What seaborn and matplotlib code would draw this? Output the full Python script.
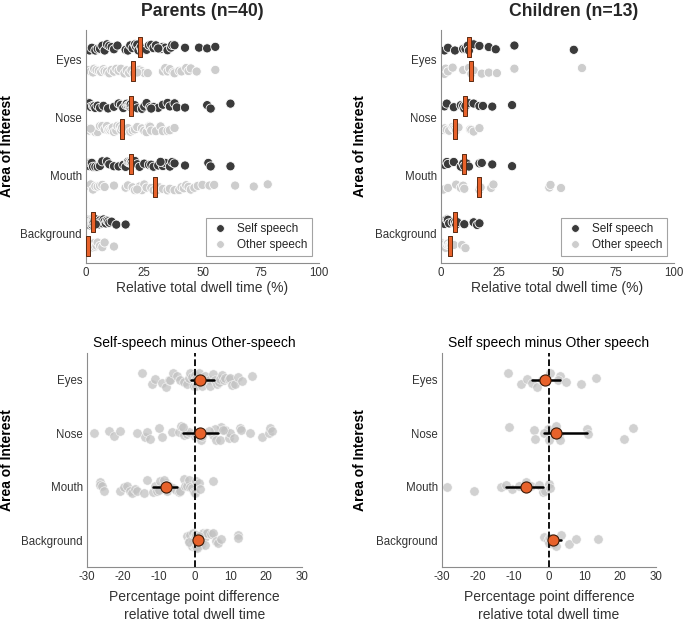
import numpy as np
import pandas as pd
import matplotlib
matplotlib.use("Agg")
import matplotlib.pyplot as plt
import seaborn as sns
from matplotlib.path import Path
from matplotlib.lines import Line2D
from matplotlib.ticker import FixedLocator

aois = ["Eyes", "Nose", "Mouth", "Background"]
conds = ["Self speech", "Other speech"]

# relative total dwell time (%) per participant
parents_self = {
    "Eyes": [1.5, 2.5, 4, 5, 6, 7, 8, 9, 10, 11, 12, 13.5, 17, 18, 19, 20, 21, 21.5, 22, 22.5,
             23.5, 24, 25, 26, 27, 28, 29, 30, 32, 33, 34, 35, 36.5, 37, 38, 42.5, 48.5, 52, 55.5, 31],
    "Nose": [1, 1.5, 2, 3, 3.5, 4, 5, 6, 7.5, 9.5, 12, 14, 15, 16, 17, 17.5, 18, 18.5, 18.8, 19,
             19.2, 20, 21, 22, 24, 25, 26, 27.5, 29, 31, 33, 35, 36, 38, 39, 42.5, 52, 53.5, 62, 28],
    "Mouth": [1, 1.5, 2, 2.5, 3, 4, 5, 6, 7, 9, 10, 12, 14, 16, 17, 18, 18.5, 19, 19.2, 19.4,
              19.6, 20, 21, 22, 23, 25, 27, 28, 29, 31, 33, 34, 36, 37, 38, 42.5, 52.5, 53.5, 62, 32],
    "Background": [0.2, 0.5, 0.8, 1, 1.2, 1.5, 1.8, 2, 2.2, 2.4, 2.5, 2.6, 2.7, 2.8, 2.9, 2.9, 3, 3, 3, 3,
                   3, 3.2, 3.5, 4, 4.5, 5, 5.5, 6, 6.5, 7, 7.5, 8, 8.5, 9, 9.5, 10, 11, 13, 17, 4.2],
}
parents_other = {
    "Eyes": [1, 2, 3, 3.5, 4.5, 5.5, 6.5, 7.5, 8, 9, 10, 11, 12, 13, 14, 15, 16.5, 17.5, 18.5, 19.5,
             20.5, 21.5, 23, 24, 25, 26.5, 33, 34, 35, 36, 37.5, 38, 40, 41, 43, 44, 45, 47.5, 55.5, 22],
    "Nose": [0.5, 1.5, 3, 4, 5, 6, 7, 8, 9, 9.5, 10, 10.5, 11, 11.5, 12, 13, 13.5, 14.5, 15, 15.5,
             16.5, 17.5, 18, 19, 20, 21, 22, 24, 25, 26, 27, 27.5, 28, 30, 32, 33, 35, 36, 38, 2],
    "Mouth": [0.5, 2, 3, 4, 5, 6, 7, 8, 12, 17, 18, 20, 21, 23, 24, 25, 26, 28, 29, 30.5,
              31.5, 33, 35, 36, 38, 40, 41, 42, 43, 44, 45, 46.5, 48, 50, 53, 55, 64, 72, 78, 22],
    "Background": [0, 0, 0, 0.1, 0.2, 0.2, 0.3, 0.4, 0.5, 0.5, 0.6, 0.7, 0.7, 0.8, 0.8, 0.9, 0.9, 1, 1, 1,
                   1, 1.1, 1.2, 1.4, 1.6, 1.8, 2, 2.2, 2.5, 2.8, 3, 3.5, 4, 4.5, 5, 6, 7, 8, 12, 0.3],
}
children_self = {
    "Eyes": [1.5, 3, 6, 9.5, 10.5, 11.5, 12, 14, 16.5, 20.5, 23.5, 31.5, 57],
    "Nose": [1.5, 2.5, 5.5, 8.5, 9.5, 10, 10.5, 12, 14, 16.5, 18, 22, 30.5],
    "Mouth": [1.5, 2.5, 3, 5.5, 8.5, 9.5, 10, 11, 12, 16.5, 17.5, 22, 30.5],
    "Background": [0.5, 1.5, 2.5, 3, 3.5, 5, 6, 6.5, 7, 10, 14, 15.5, 16.5],
}
children_other = {
    "Eyes": [1.5, 2, 3, 5, 9.5, 12, 13, 14, 17.5, 20.5, 24, 31.5, 60.5],
    "Nose": [1, 1.5, 2.5, 3.5, 5, 5.5, 6, 6.5, 7.5, 12.5, 13, 14, 16.5],
    "Mouth": [1, 3, 6.5, 8.5, 9.5, 10, 16.5, 17, 21.5, 22.5, 46.5, 47, 51.5],
    "Background": [0.5, 1, 2, 2.5, 3, 3.5, 4, 4.2, 4.5, 5, 5.5, 9, 10.5],
}

# self minus other, percentage points
parents_diff = {
    "Eyes": [-14.7, -11.9, -10.9, -9.1, -8, -7.2, -6.7, -6, -4.9, -4, -3, -2.1, -1.6, -1.2, -0.7, -0.2,
             0, 0.3, 0.5, 1.3, 1.5, 2, 3, 4, 4.4, 5.3, 5.8, 6.3, 6.8, 7.2, 7.7, 8.1, 8.5, 9.5, 10, 10.5,
             11.4, 12, 13.3, 16],
    "Nose": [-28.1, -24, -22.6, -20.7, -16, -13.7, -13.3, -12.3, -10, -9.1, -6.3, -4.4, -3, -2.1, -1.6,
             -3.8, -3.3, 0, 0.5, 1.5, 1.7, 2.1, 7.5, 8.5, 5.3, 5.8, 6, 7.2, 9.5, 10, 11, 12.8, 13, 15.6,
             18.8, 20.7, 21.2, 21.6, 4, 8],
    "Mouth": [-26.5, -26.3, -25.8, -25.3, -20.7, -19.8, -18.8, -17.9, -17.4, -16.5, -16, -14, -13.3,
              -11.5, -7.9, -10.9, -10.5, -10, -9.5, -7.95, -8.6, -8, -7.7, -7.2, -6, -5.3, -4.4, -4, -3,
              -2.6, -2.1, -1.6, -1.2, -0.7, -0.2, 0, 0.5, 1.2, 1.6, 5.3],
    "Background": [-2, -1.6, -1.2, -1, -0.8, -0.5, -0.3, -0.1, 0, 0, 0.2, 0.4, 0.5, 0.7, 0.9, 1, 1.35,
                   1.4, 1.6, 1.8, 2, 2.2, 2.5, 2.8, 3, 3.2, 3.5, 0.1, 4.5, 0.5, 5.3, 6, 6.5, 7.5, 12, 12.2,
                   -1.5, 0.3, 0.8, 1.3],
}
children_diff = {
    "Eyes": [-11.4, -7.9, -6.3, -4.9, -3.5, -2.1, -1.0, 0.2, 3.0, 2.5, 4.9, 9.1, 13.3],
    "Nose": [-11.3, -4.3, -4, -0.3, -1.5, 0, 2, 2.9, 3.2, 10.7, 10.8, 20.9, 23.5],
    "Mouth": [-28.6, -21.1, -10.4, -8.5, -6.5, -13.5, -12, -5, -2.9, -1.7, -1.2, 0, 0.2],
    "Background": [-1.5, -0.3, 0, 0, 0.3, 0.8, 1.2, 1.5, 2, 3.5, 5.5, 7.7, 13.6],
}

orange = "#e8622b"
dot_colors = {"Self speech": "#3b3b3b", "Other speech": "#cdcdcd"}
spine_col = "#8c8c8c"
text_col = "#333333"


def dwell_frame(self_d, other_d):
    rows = []
    for cond, d in zip(conds, [self_d, other_d]):
        for aoi in aois:
            for v in d[aoi]:
                rows.append((aoi, cond, v))
    return pd.DataFrame(rows, columns=["aoi", "cond", "dwell"])


def diff_frame(d):
    rows = [(aoi, v) for aoi in aois for v in d[aoi]]
    return pd.DataFrame(rows, columns=["aoi", "diff"])


sns.set_style("white")
plt.rcParams["font.family"] = ["Liberation Sans", "DejaVu Sans"]
plt.rcParams["axes.unicode_minus"] = False

# thin upright rectangle used for the median markers
bar_marker = Path([(-0.1, -0.5), (0.1, -0.5), (0.1, 0.5), (-0.1, 0.5), (-0.1, -0.5)],
                  [Path.MOVETO, Path.LINETO, Path.LINETO, Path.LINETO, Path.CLOSEPOLY])


def style_axes(ax, ylab_x):
    sns.despine(ax=ax)
    for s in ["left", "bottom"]:
        ax.spines[s].set_color(spine_col)
        ax.spines[s].set_linewidth(0.8)
    ax.tick_params(which="both", direction="in", length=3, color=spine_col,
                   labelcolor=text_col, labelsize=8.3, pad=3)
    ax.set_ylabel("Area of Interest", fontsize=10, fontweight="bold", color="black")
    ax.yaxis.set_label_coords(ylab_x, 0.5)


def top_panel(ax, df, ylab_x):
    np.random.seed(4)
    sns.stripplot(data=df, x="dwell", y="aoi", hue="cond", order=aois, hue_order=conds,
                  dodge=True, jitter=0.11, palette=dot_colors, size=6.6, edgecolor="white",
                  linewidth=0.6, legend=False, ax=ax, zorder=2)
    sns.pointplot(data=df, x="dwell", y="aoi", hue="cond", order=aois, hue_order=conds,
                  dodge=0.4, estimator="median", errorbar=None, markers=bar_marker,
                  linestyles="none", palette={c: orange for c in conds}, markersize=14.5,
                  markeredgecolor="#5a2a12", markeredgewidth=0.7, legend=False, ax=ax, zorder=4)
    ax.set_xlim(0, 100)
    ax.set_ylim(3.5, -0.5)
    ax.set_xticks([0, 25, 50, 75, 100])
    ax.yaxis.set_minor_locator(FixedLocator([-0.5, 0.5, 1.5, 2.5, 3.5]))
    ax.set_xlabel("Relative total dwell time (%)", fontsize=10, color=text_col, labelpad=1)
    style_axes(ax, ylab_x)
    handles = [Line2D([0], [0], marker="o", linestyle="none", markersize=5.5,
                      markerfacecolor=dot_colors[c], markeredgecolor="white", markeredgewidth=0.5)
               for c in conds]
    leg = ax.legend(handles, conds, loc="lower right", fontsize=8.5, frameon=True, fancybox=False,
                    borderaxespad=0.6, handletextpad=0.6, borderpad=0.4, labelspacing=0.35,
                    handlelength=1.6)
    leg.get_frame().set_edgecolor(spine_col)
    leg.get_frame().set_linewidth(0.8)


def diff_panel(ax, df, title, ylab_x):
    np.random.seed(7)
    sns.stripplot(data=df, x="diff", y="aoi", order=aois, jitter=0.14, color="#c2c2c2",
                  alpha=0.75, size=6.8, edgecolor="white", linewidth=0.5, ax=ax, zorder=2)
    ax.axvline(0, color="black", linestyle="--", linewidth=1.3, zorder=3)
    sns.pointplot(data=df, x="diff", y="aoi", order=aois, estimator="median",
                  errorbar=("ci", 95), n_boot=2000, seed=1, color=orange, markers="o",
                  linestyles="none", markersize=8, markeredgecolor="#3a1a08", markeredgewidth=0.8,
                  err_kws={"color": "black", "linewidth": 1.8, "zorder": 4}, zorder=5, ax=ax)
    ax.set_xlim(-30, 30)
    ax.set_ylim(3.5, -0.5)
    ax.set_xticks(range(-30, 31, 10))
    ax.set_title(title, fontsize=10, color="black", pad=4)
    ax.set_xlabel("Percentage point difference\nrelative total dwell time", fontsize=10,
                  color=text_col, labelpad=5, linespacing=1.35)
    style_axes(ax, ylab_x)


fig = plt.figure(figsize=(6.85, 6.22), dpi=100)
W, H = 685, 622
ax_tl = fig.add_axes([86 / W, 1 - 263 / H, 233 / W, 233 / H])
ax_tr = fig.add_axes([441 / W, 1 - 263 / H, 233 / W, 233 / H])
ax_bl = fig.add_axes([87 / W, 1 - 567 / H, 215 / W, 214 / H])
ax_br = fig.add_axes([442 / W, 1 - 567 / H, 214 / W, 214 / H])

top_panel(ax_tl, dwell_frame(parents_self, parents_other), (14 - 86) / 233)
top_panel(ax_tr, dwell_frame(children_self, children_other), (367 - 441) / 233)
diff_panel(ax_bl, diff_frame(parents_diff), "Self-speech minus Other-speech", (14 - 87) / 215)
diff_panel(ax_br, diff_frame(children_diff), "Self speech minus Other speech", (367 - 442) / 214)

fig.text(202 / W, 1 - 11 / H, "Parents (n=40)", ha="center", va="center",
         fontsize=12.7, fontweight="bold")
fig.text(574 / W, 1 - 11 / H, "Children (n=13)", ha="center", va="center",
         fontsize=12.7, fontweight="bold")

fig.savefig("out.png", dpi=100, facecolor="white")
